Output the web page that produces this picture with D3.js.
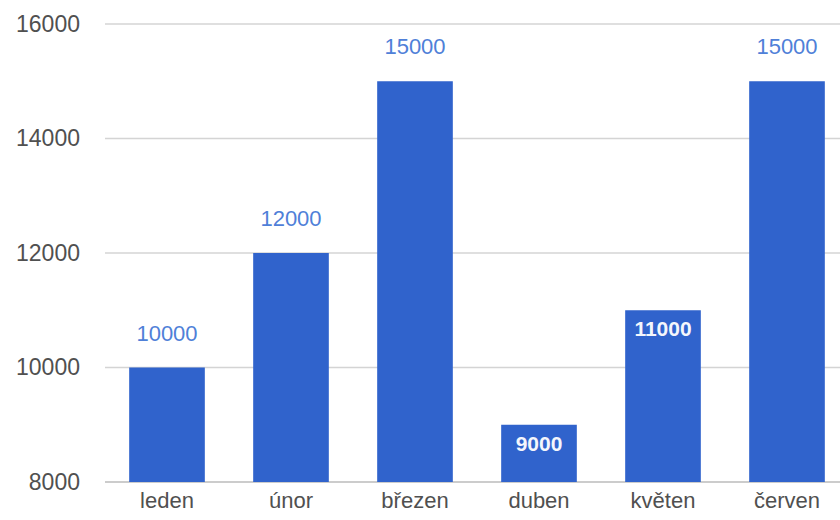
<!DOCTYPE html>
<html>
<head>
<meta charset="utf-8">
<script src="https://cdn.jsdelivr.net/npm/d3@7"></script>
<style>
  body { margin: 0; background: #fff; }
  text { font-family: "Liberation Sans", Arial, sans-serif; }
</style>
</head>
<body>
<div id="chart"></div>
<script>
// data
let months = ["leden", "únor", "březen", "duben", "květen", "červen"];
let values = [10000, 12000, 15000, 9000, 11000, 15000];
let yTicks = [8000, 10000, 12000, 14000, 16000];
// labels drawn inside the bar instead of above it
let insideLabel = [false, false, false, true, true, false];

let svgWidth = 840;
let svgHeight = 520;

let svg = d3.select("#chart")
  .append("svg")
  .attr("width", svgWidth)
  .attr("height", svgHeight);

let x = d3.scaleBand()
  .domain(months)
  .range([105, 849])
  .paddingInner(0.39)
  .paddingOuter(0.195);

let y = d3.scaleLinear()
  .domain([8000, 16000])
  .range([482, 24]);

// gridlines
svg.append("g")
  .selectAll("line")
  .data(yTicks)
  .enter()
  .append("line")
  .attr("x1", 105)
  .attr("x2", svgWidth)
  .attr("y1", d => y(d))
  .attr("y2", d => y(d))
  .attr("stroke", d => d == 8000 ? "#bbb" : "#d4d4d4")
  .attr("stroke-width", 1.5);

// y axis labels
let yAxis = d3.axisLeft(y).tickValues(yTicks).tickFormat(d3.format("d")).tickSize(0).tickPadding(0);
svg.append("g")
  .attr("transform", "translate(80,0)")
  .call(yAxis)
  .call(g => g.select(".domain").remove())
  .selectAll("text")
  .attr("font-size", "23px")
  .attr("fill", "#505050")
  .style("font-family", "'Liberation Sans', Arial, sans-serif");

// bars
svg.append("g")
  .selectAll("rect")
  .data(values)
  .enter()
  .append("rect")
  .attr("x", (d, i) => x(months[i]))
  .attr("width", x.bandwidth())
  .attr("y", d => y(d))
  .attr("height", d => y(8000) - y(d))
  .attr("fill", "#3063cc");

// value labels
svg.append("g")
  .selectAll("text")
  .data(values)
  .enter()
  .append("text")
  .attr("x", (d, i) => x(months[i]) + x.bandwidth() / 2)
  .attr("y", (d, i) => insideLabel[i] ? y(d) + 26 : y(d) - 27)
  .attr("text-anchor", "middle")
  .attr("font-size", (d, i) => insideLabel[i] ? "21px" : "22px")
  .attr("font-weight", (d, i) => insideLabel[i] ? "bold" : "normal")
  .attr("fill", (d, i) => insideLabel[i] ? "#f4f6fc" : "#4f80d8")
  .text(d => d);

// x axis labels
let xAxis = d3.axisBottom(x).tickSize(0).tickPadding(0);
svg.append("g")
  .attr("transform", "translate(0,492)")
  .call(xAxis)
  .call(g => g.select(".domain").remove())
  .selectAll("text")
  .attr("font-size", "22px")
  .attr("fill", "#505050")
  .style("font-family", "'Liberation Sans', Arial, sans-serif");
</script>
</body>
</html>
